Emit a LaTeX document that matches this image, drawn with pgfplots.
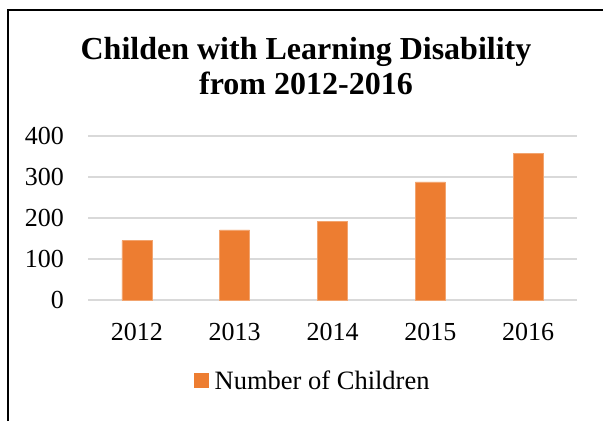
\documentclass[border=0pt]{standalone}
\usepackage{pgfplots}
\pgfplotsset{compat=1.18}
\usepackage{fontspec}
\setmainfont{Liberation Serif}
\definecolor{barorange}{HTML}{ED7D31}
\definecolor{gridgray}{HTML}{D9D9D9}
\begin{document}
\begin{tikzpicture}[x=1pt,y=1pt]
\useasboundingbox (0,0) rectangle (603,421);
\draw[line width=1.6pt] (8,0) -- (8,411) -- (603,411);
\node[font=\fontsize{32}{35}\selectfont\bfseries, anchor=base, inner sep=0pt] at (306,361) {Childen with Learning Disability};
\node[font=\fontsize{32}{35}\selectfont\bfseries, anchor=base, inner sep=0pt] at (306,326) {from 2012-2016};
\begin{axis}[
  at={(88pt,121pt)}, anchor=south west,
  scale only axis, width=489pt, height=164pt,
  ymin=0, ymax=400, xmin=-0.5, xmax=4.5,
  ybar, bar width=30pt,
  xtick={0,1,2,3,4}, xticklabels={2012,2013,2014,2015,2016},
  ytick={0,100,200,300,400},
  ymajorgrids, grid style={gridgray, line width=1.3pt},
  axis line style={draw=none},
  major tick length=0pt,
  /pgf/number format/assume math mode=true,
  tick label style={font=\fontsize{26}{30}\selectfont, inner sep=0pt},
  yticklabel style={anchor=east, xshift=-24pt},
  xticklabel style={anchor=north, yshift=-23pt},
  legend style={at={(axis description cs:0.2157,-0.491)}, anchor=west, draw=none, fill=none, inner sep=0pt, column sep=0pt,
    font=\fontsize{26.5}{30}\selectfont, nodes={inner sep=0pt}},
  legend image code/.code={\fill[barorange] (0pt,-7pt) rectangle (14pt,7pt); \path (20.5pt,0pt);},
]
\addplot[fill=barorange, draw=barorange!70!white, line width=0.5pt] coordinates {(0,145) (1,171) (2,192) (3,288) (4,358)};
\addlegendentry{Number of Children}
\end{axis}
\end{tikzpicture}
\end{document}
